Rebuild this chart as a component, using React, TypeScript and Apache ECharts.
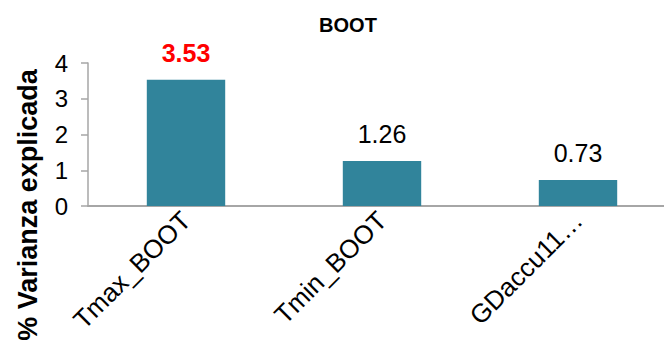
import React, { useEffect, useRef } from "react";
import * as echarts from "echarts";

const categories = ["Tmax_BOOT", "Tmin_BOOT", "GDaccu11…"];
const values = [3.53, 1.26, 0.73];
const labelColors = ["#FF0000", "#000000", "#000000"];
const labelBold = [true, false, false];
const yTicks = [0, 1, 2, 3, 4];
const titleText = "BOOT";
const yAxisTitle = "% Varianza explicada";

export default function App() {
  const ref = useRef<HTMLDivElement>(null);
  useEffect(() => {
    const chart = echarts.init(ref.current!, null, { renderer: "svg" });
    const font = "'Liberation Sans', Arial, sans-serif";
    chart.setOption({
      animation: false,
      backgroundColor: "#ffffff",
      textStyle: { fontFamily: font },
      title: {
        text: titleText,
        left: 343,
        top: 10,
        textAlign: "center",
        textStyle: { fontSize: 20, fontWeight: "bold", color: "#000", fontFamily: font },
      },
      graphic: [
        {
          type: "text",
          x: 28,
          y: 205,
          rotation: Math.PI / 2,
          style: {
            text: yAxisTitle,
            fill: "#000",
            font: `bold 27px ${font}`,
            textAlign: "center",
            textVerticalAlign: "middle",
          },
        },
      ],
      grid: {
        left: 88,
        width: 588,
        top: 63,
        bottom: 138,
        containLabel: false,
        outerBoundsMode: "none",
      },
      xAxis: {
        type: "category",
        data: categories,
        axisLine: { lineStyle: { color: "#A6A6A6", width: 2 } },
        axisTick: { show: false },
        axisLabel: {
          rotate: 45,
          interval: 0,
          fontSize: 26,
          color: "#000",
          fontFamily: font,
          margin: 10,
        },
      },
      yAxis: {
        type: "value",
        min: yTicks[0],
        max: yTicks[yTicks.length - 1],
        interval: 1,
        axisLine: { show: true, lineStyle: { color: "#A6A6A6", width: 1.5 } },
        axisTick: { show: true, length: 7, lineStyle: { color: "#A6A6A6", width: 1.5 } },
        splitLine: { show: false },
        axisLabel: { fontSize: 24, color: "#000", fontFamily: font, margin: 20 },
      },
      series: [
        {
          type: "bar",
          barWidth: "40%",
          data: values.map((v, i) => ({
            value: v,
            label: {
              color: labelColors[i],
              fontWeight: labelBold[i] ? "bold" : "normal",
            },
          })),
          itemStyle: { color: "#31849B" },
          label: {
            show: true,
            position: "top",
            distance: 14,
            fontSize: 25,
            fontFamily: font,
            formatter: (p: any) => p.value.toFixed(2),
          },
        },
      ],
    });
    return () => chart.dispose();
  }, []);
  return (
    <div
      ref={ref}
      style={{ position: "absolute", left: 0, top: 0, width: 664, height: 344 }}
    />
  );
}
